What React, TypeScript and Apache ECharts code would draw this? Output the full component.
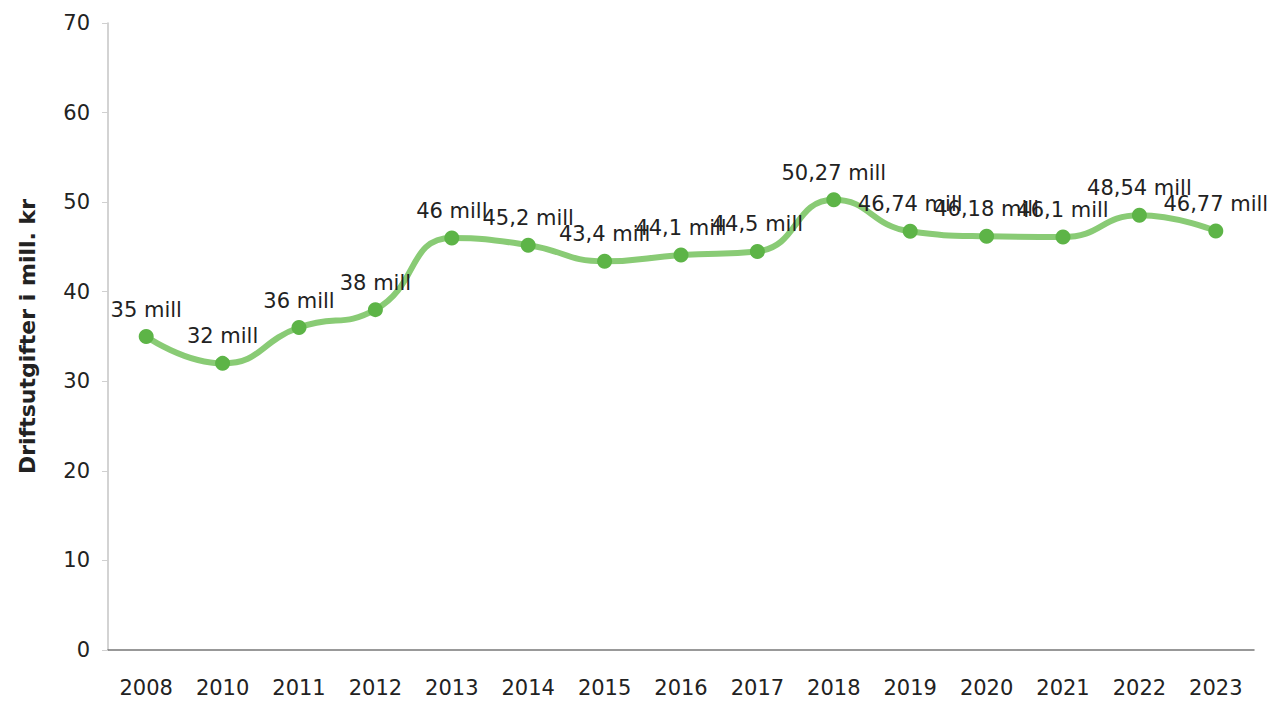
import React, { useEffect, useRef } from "react";
import * as echarts from "echarts";

const years = ["2008", "2010", "2011", "2012", "2013", "2014", "2015", "2016", "2017", "2018", "2019", "2020", "2021", "2022", "2023"];
const values = [35, 32, 36, 38, 46, 45.2, 43.4, 44.1, 44.5, 50.27, 46.74, 46.18, 46.1, 48.54, 46.77];
const yTicks = { min: 0, max: 70, interval: 10 };

export default function App() {
  const ref = useRef<HTMLDivElement>(null);
  useEffect(() => {
    if (!ref.current) return;
    const chart = echarts.init(ref.current, null, { renderer: "svg" });
    chart.setOption({
      animation: false,
      textStyle: { fontFamily: "DejaVu Sans" },
      grid: { left: 95, right: 14, top: 15, bottom: 49, containLabel: false },
      xAxis: {
        type: "category",
        data: years,
        boundaryGap: true,
        axisLine: { lineStyle: { color: "#777", width: 1.5 } },
        axisTick: { alignWithLabel: true, length: 6, lineStyle: { color: "#999" } },
        axisLabel: { color: "#222", fontSize: 21, margin: 27 },
      },
      yAxis: {
        type: "value",
        min: yTicks.min,
        max: yTicks.max,
        interval: yTicks.interval,
        name: "Driftsutgifter i mill. kr",
        nameLocation: "middle",
        nameGap: 70,
        nameTextStyle: { color: "#222", fontSize: 22, fontWeight: "bold" },
        axisLine: { show: true, lineStyle: { color: "#c4c4c4", width: 1.5 } },
        axisTick: { show: true, length: 6, lineStyle: { color: "#d0d0d0" } },
        axisLabel: { color: "#222", fontSize: 21, margin: 18 },
        splitLine: { show: false },
      },
      series: [
        {
          type: "line",
          data: values,
          smooth: true,
          lineStyle: { color: "#89cb75", width: 6 },
          itemStyle: { color: "#5db447" },
          symbol: "circle",
          symbolSize: 15,
          label: {
            show: true,
            position: "top",
            distance: 9,
            color: "#222",
            fontSize: 21,
            formatter: (p: any) => String(p.value).replace(".", ",") + " mill",
          },
        },
      ],
    });
    return () => chart.dispose();
  }, []);
  return <div ref={ref} style={{ width: 1260, height: 691 }} />;
}
